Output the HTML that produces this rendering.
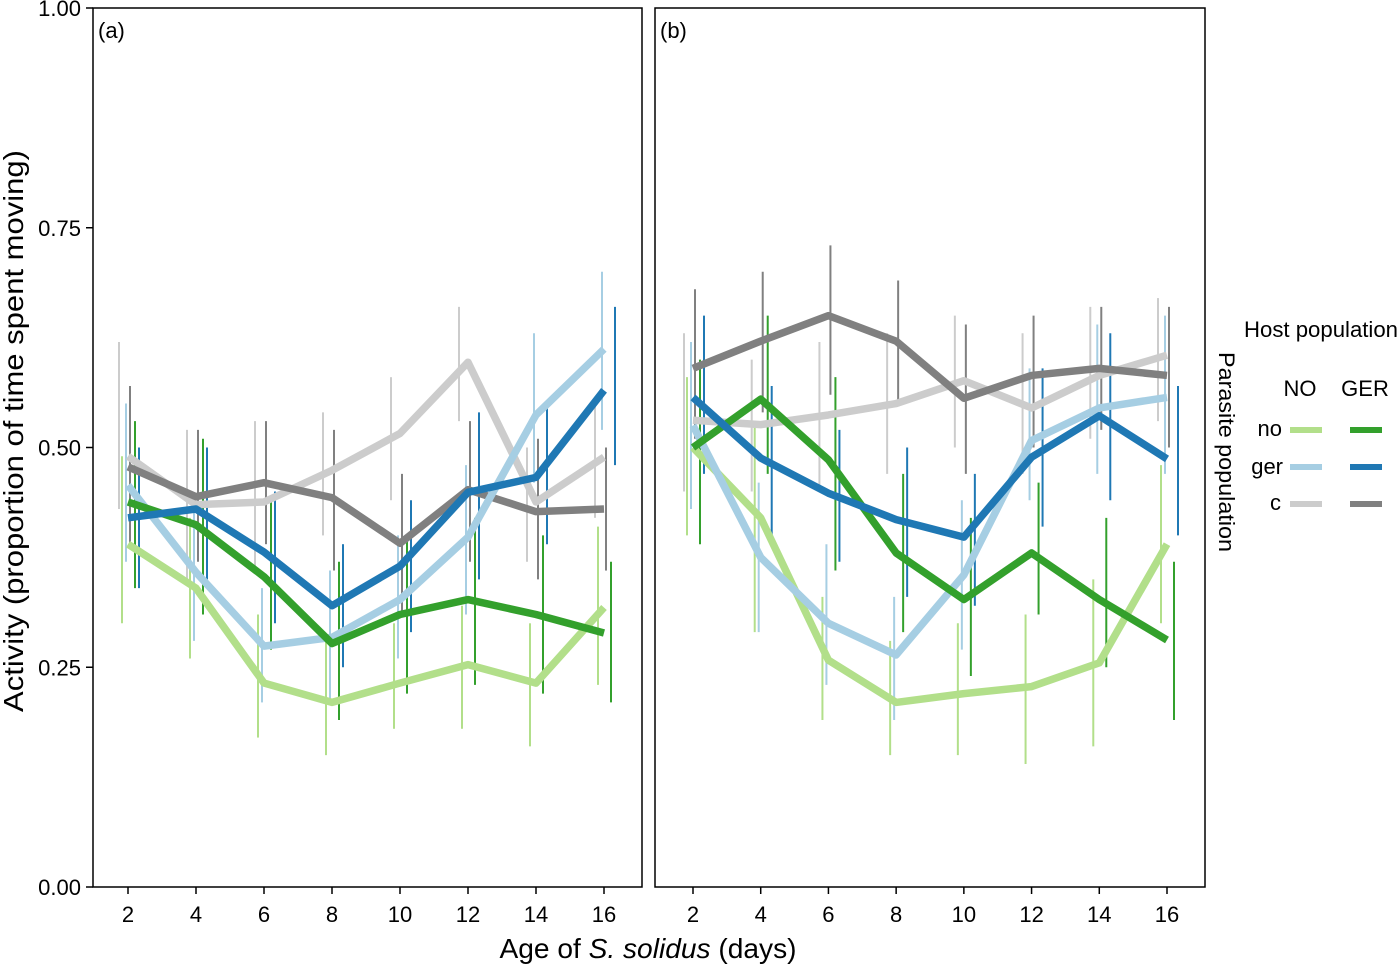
<!DOCTYPE html>
<html><head><meta charset="utf-8"><style>
body{margin:0;background:#fff;}
svg{display:block;font-family:"Liberation Sans",Arial,sans-serif;}
</style></head><body>
<svg id="chart" width="1400" height="968"></svg>
<script>
const ages=[2,4,6,8,10,12,14,16];
const seriesNames=["c-NO","no-NO","ger-NO","c-GER","no-GER","ger-GER"];
const seriesColors=["#cccccc","#b2df8a","#a6cee3","#808080","#33a02c","#1f78b4"];
const dodge=[-9,-6,-2,2,7,11];
const yTicks=[0,0.25,0.5,0.75,1.0];
const yTickLabels=["0.00","0.25","0.50","0.75","1.00"];
// panel a means
const aCNO=[0.49,0.435,0.438,0.474,0.516,0.597,0.438,0.489];
const aNoNO=[0.39,0.34,0.232,0.21,0.232,0.253,0.232,0.318];
const aGerNO=[0.457,0.358,0.274,0.284,0.327,0.398,0.537,0.612];
const aCGER=[0.478,0.444,0.46,0.443,0.391,0.452,0.427,0.43];
const aNoGER=[0.438,0.412,0.353,0.277,0.31,0.327,0.31,0.289];
const aGerGER=[0.42,0.43,0.381,0.32,0.365,0.449,0.466,0.565];
// panel a error bars
const aCNOlo=[0.43,0.35,0.36,0.40,0.44,0.53,0.37,0.42], aCNOhi=[0.62,0.52,0.53,0.54,0.58,0.66,0.50,0.55];
const aNoNOlo=[0.30,0.26,0.17,0.15,0.18,0.18,0.16,0.23], aNoNOhi=[0.49,0.42,0.31,0.28,0.30,0.32,0.30,0.41];
const aGerNOlo=[0.37,0.28,0.21,0.21,0.26,0.31,0.46,0.52], aGerNOhi=[0.55,0.44,0.34,0.36,0.40,0.48,0.63,0.70];
const aCGERlo=[0.39,0.37,0.39,0.36,0.31,0.37,0.35,0.36], aCGERhi=[0.57,0.52,0.53,0.52,0.47,0.53,0.51,0.50];
const aNoGERlo=[0.34,0.31,0.27,0.19,0.22,0.23,0.22,0.21], aNoGERhi=[0.53,0.51,0.44,0.37,0.40,0.42,0.40,0.37];
const aGerGERlo=[0.34,0.35,0.30,0.25,0.29,0.35,0.39,0.48], aGerGERhi=[0.50,0.50,0.45,0.39,0.44,0.54,0.55,0.66];
// panel b means
const bCNO=[0.531,0.526,0.537,0.55,0.576,0.545,0.582,0.605];
const bNoNO=[0.50,0.42,0.258,0.21,0.22,0.228,0.255,0.39];
const bGerNO=[0.525,0.375,0.30,0.264,0.355,0.508,0.545,0.557];
const bCGER=[0.59,0.621,0.65,0.621,0.556,0.582,0.59,0.582];
const bNoGER=[0.50,0.555,0.486,0.38,0.327,0.38,0.327,0.281];
const bGerGER=[0.557,0.488,0.448,0.418,0.398,0.489,0.536,0.487];
// panel b error bars
const bCNOlo=[0.45,0.45,0.45,0.47,0.50,0.47,0.51,0.53], bCNOhi=[0.63,0.60,0.62,0.63,0.65,0.63,0.66,0.67];
const bNoNOlo=[0.40,0.29,0.19,0.15,0.15,0.14,0.16,0.30], bNoNOhi=[0.58,0.53,0.33,0.28,0.30,0.31,0.35,0.48];
const bGerNOlo=[0.43,0.29,0.23,0.19,0.27,0.44,0.47,0.47], bGerNOhi=[0.62,0.46,0.39,0.33,0.44,0.59,0.64,0.65];
const bCGERlo=[0.51,0.54,0.56,0.55,0.47,0.50,0.52,0.50], bCGERhi=[0.68,0.70,0.73,0.69,0.64,0.65,0.66,0.66];
const bNoGERlo=[0.39,0.47,0.36,0.29,0.24,0.31,0.25,0.19], bNoGERhi=[0.60,0.65,0.58,0.47,0.42,0.46,0.42,0.37];
const bGerGERlo=[0.47,0.40,0.37,0.33,0.32,0.41,0.44,0.40], bGerGERhi=[0.65,0.57,0.52,0.50,0.47,0.59,0.63,0.57];

const NS="http://www.w3.org/2000/svg";
const svg=document.getElementById("chart");
function el(tag,attrs,parent){const e=document.createElementNS(NS,tag);for(const k in attrs)e.setAttribute(k,attrs[k]);(parent||svg).appendChild(e);return e;}
const yPx=v=>887-v*879;
const panels=[
 {x0:93,x1:642,x2at:128,x16at:604,label:"(a)",means:[aCNO,aNoNO,aGerNO,aCGER,aNoGER,aGerGER],lo:[aCNOlo,aNoNOlo,aGerNOlo,aCGERlo,aNoGERlo,aGerGERlo],hi:[aCNOhi,aNoNOhi,aGerNOhi,aCGERhi,aNoGERhi,aGerGERhi]},
 {x0:655,x1:1205,x2at:693,x16at:1167,label:"(b)",means:[bCNO,bNoNO,bGerNO,bCGER,bNoGER,bGerGER],lo:[bCNOlo,bNoNOlo,bGerNOlo,bCGERlo,bNoGERlo,bGerGERlo],hi:[bCNOhi,bNoNOhi,bGerNOhi,bCGERhi,bNoGERhi,bGerGERhi]}
];
const drawOrder=[0,3,1,2,4,5];
panels.forEach((p,pi)=>{
  const g=el("g",{});
  
  
  const xPx=a=>p.x2at+(a-2)*(p.x16at-p.x2at)/14;
  drawOrder.forEach(si=>{
    ages.forEach((a,i)=>{
      const l=el("line",{x1:xPx(a)+dodge[si],x2:xPx(a)+dodge[si],y1:yPx(p.lo[si][i]),y2:yPx(p.hi[si][i]),stroke:seriesColors[si],"stroke-width":2},g);
      
      
    });
  });
  drawOrder.forEach(si=>{
    const pts=ages.map((a,i)=>xPx(a)+","+yPx(p.means[si][i])).join(" ");
    const pl=el("polyline",{points:pts,fill:"none",stroke:seriesColors[si],"stroke-width":7.5,"stroke-linejoin":"round"},g);
    
    
  });
  const r=el("rect",{x:p.x0,y:8,width:p.x1-p.x0,height:879,fill:"none",stroke:"#000","stroke-width":1.5},g);
  
  
  const t=el("text",{x:p.x0+5,y:38,"font-size":22},g);t.textContent=p.label;
  
  
  ages.forEach(a=>{
    el("line",{x1:xPx(a),x2:xPx(a),y1:887,y2:894,stroke:"#000","stroke-width":1.5},g);
    const tl=el("text",{x:xPx(a),y:922,"font-size":22,"text-anchor":"middle"},g);tl.textContent=a;
    
    
  });
});
yTicks.forEach((v,i)=>{
  el("line",{x1:86,x2:93,y1:yPx(v),y2:yPx(v),stroke:"#000","stroke-width":1.5});
  const t=el("text",{x:81,y:yPx(v)+8,"font-size":22,"text-anchor":"end"});t.textContent=yTickLabels[i];
  
  
});
</script>
<svg style="position:absolute;left:0;top:0" width="1400" height="968">
<text x="0" y="0" font-size="28" text-anchor="middle" textLength="562" lengthAdjust="spacingAndGlyphs" transform="translate(23,431) rotate(-90)" font-family="Liberation Sans, sans-serif">Activity (proportion of time spent moving)</text>
<text x="648" y="958" font-size="28" text-anchor="middle" textLength="297" lengthAdjust="spacingAndGlyphs" font-family="Liberation Sans, sans-serif">Age of <tspan font-style="italic">S. solidus</tspan> (days)</text>
<g font-family="Liberation Sans, sans-serif" font-size="22">
<text x="1244" y="337" textLength="154" lengthAdjust="spacingAndGlyphs">Host population</text>
<text x="0" y="0" text-anchor="middle" textLength="200" lengthAdjust="spacingAndGlyphs" transform="translate(1219,452) rotate(90)">Parasite population</text>
<text x="1300" y="396" text-anchor="middle">NO</text>
<text x="1365" y="396" text-anchor="middle">GER</text>
<text x="1282" y="436" text-anchor="end">no</text>
<text x="1283" y="474" text-anchor="end">ger</text>
<text x="1281" y="510" text-anchor="end">c</text>
<line x1="1290" x2="1322" y1="430" y2="430" stroke="#b2df8a" stroke-width="6"/>
<line x1="1350" x2="1382" y1="430" y2="430" stroke="#33a02c" stroke-width="6"/>
<line x1="1290" x2="1322" y1="467" y2="467" stroke="#a6cee3" stroke-width="6"/>
<line x1="1350" x2="1382" y1="467" y2="467" stroke="#1f78b4" stroke-width="6"/>
<line x1="1290" x2="1322" y1="504" y2="504" stroke="#cccccc" stroke-width="6"/>
<line x1="1350" x2="1382" y1="504" y2="504" stroke="#808080" stroke-width="6"/>
</g>
</svg>
</body></html>
